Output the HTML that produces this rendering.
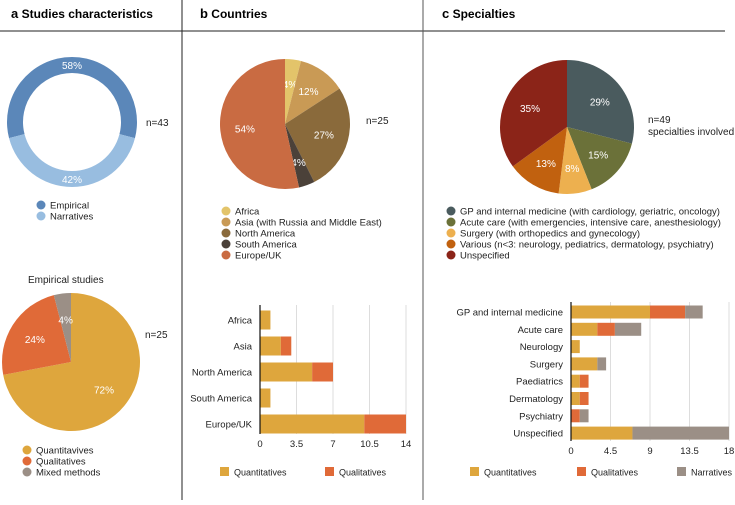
<!DOCTYPE html>
<html><head><meta charset="utf-8"><style>
body{margin:0;background:#fff;width:735px;height:500px;overflow:hidden}
svg{font-family:"Liberation Sans",sans-serif}
</style></head><body>
<svg id="s" width="735" height="500">
<line x1="0" y1="31" x2="725" y2="31" stroke="#222" stroke-width="1"/>
<line x1="182" y1="0" x2="182" y2="500" stroke="#222" stroke-width="1"/>
<line x1="423" y1="0" x2="423" y2="500" stroke="#555" stroke-width="1"/>
<text x="11" y="18" font-size="12" font-weight="bold"><tspan font-size="13">a</tspan>  Studies characteristics</text>
<text x="200" y="18" font-size="12" font-weight="bold"><tspan font-size="13">b</tspan>  Countries</text>
<text x="442" y="18" font-size="12" font-weight="bold"><tspan font-size="13">c</tspan>  Specialties</text>
<text x="146" y="126" font-size="10" fill="#222">n=43</text>
<text x="28" y="283" font-size="10" fill="#222">Empirical studies</text>
<text x="145" y="338" font-size="10" fill="#222">n=25</text>
<text x="366" y="124" font-size="10" fill="#222">n=25</text>
<text x="648" y="123" font-size="10" fill="#222">n=49</text>
<text x="648" y="135" font-size="10" fill="#222">specialties involved</text>
</svg>
<script>
const NS="http://www.w3.org/2000/svg";const S=document.getElementById('s');
function mk(t,a,p){const e=document.createElementNS(NS,t);for(const k in a)e.setAttribute(k,a[k]);(p||S).appendChild(e);return e;}
// data
const donutLabels=["Empirical","Narratives"];const donutVals=[58,42];
const empLabels=["Quantitavives","Qualitatives","Mixed methods"];const empVals=[72,24,4];
const ctryLabels=["Africa","Asia (with Russia and Middle East)","North America","South America","Europe/UK"];const ctryVals=[4,12,27,4,54];
const specLabels=["GP and internal medicine (with cardiology, geriatric, oncology)","Acute care (with emergencies, intensive care, anesthesiology)","Surgery (with orthopedics and gynecology)","Various (n<3: neurology, pediatrics, dermatology, psychiatry)","Unspecified"];const specVals=[29,15,8,13,35];
const barBCats=["Africa","Asia","North America","South America","Europe/UK"];const barBQuant=[1,2,5,1,10];const barBQual=[0,1,2,0,4];const barBTicks=["0","3.5","7","10.5","14"];
const barCCats=["GP and internal medicine","Acute care","Neurology","Surgery","Paediatrics","Dermatology","Psychiatry","Unspecified"];
const barCQuant=[9,3,1,3,1,1,0,7];const barCQual=[4,2,0,0,1,1,1,0];const barCNarr=[2,3,0,1,0,0,1,11];const barCTicks=["0","4.5","9","13.5","18"];

function pt(cx,cy,r,a){return [cx+r*Math.sin(a),cy-r*Math.cos(a)];}
function pie(cx,cy,r,vals,cols,start,name,inner){
  const tot=vals.reduce((a,b)=>a+b,0);let a=start;
  vals.forEach((v,i)=>{const sw=v/tot*2*Math.PI;const b=a+sw;const lg=sw>Math.PI?1:0;
    const p1=pt(cx,cy,r,a),p2=pt(cx,cy,r,b);let d;
    if(inner){const q1=pt(cx,cy,inner,b),q2=pt(cx,cy,inner,a);
      d=`M${p1}A${r},${r} 0 ${lg} 1 ${p2}L${q1}A${inner},${inner} 0 ${lg} 0 ${q2}Z`;}
    else d=`M${cx},${cy}L${p1}A${r},${r} 0 ${lg} 1 ${p2}Z`;
    const e=mk('path',{d:d,fill:cols[i]});
    
    
    const m=a+sw/2;const lr=inner?(r+inner)/2:r*0.62;const lp=pt(cx,cy,lr,m);
    const t=mk('text',{x:lp[0],y:lp[1]+4,'font-size':10,fill:'#fff','text-anchor':'middle'});t.textContent=v+'%';
    
    
    a=b;});
}
function legend(x,y,labels,cols,name,step){
  labels.forEach((l,i)=>{const c=mk('circle',{cx:x,cy:y+i*step,r:4.5,fill:cols[i]});
    
    
    const t=mk('text',{x:x+9,y:y+i*step+3.5,'font-size':9.5,fill:'#222'});t.textContent=l;
    
    });
}
const cA=["#5b87b9","#98bde0"];
pie(72,122,65,donutVals,cA,Math.PI-donutVals[1]/100*Math.PI+Math.PI*2*donutVals[1]/100,'donut',49);
legend(41,205,donutLabels,cA,'donut-legend',11);
const cE=["#dea63d","#e06a38","#9b8f86"];
pie(71,362,69,empVals,cE,0,'empirical-pie');
legend(27,450,empLabels,cE,'empirical-legend',11);
const cB=["#e3c46a","#c99a55","#8a6a3b","#4b4139","#c96b42"];
pie(285,124,65,ctryVals,cB,0,'country-pie');
legend(226,211,ctryLabels,cB,'country-legend',11);
const cC=["#4a5b5e","#6b7139","#edb04f","#c1610f","#8b2418"];
pie(567,127,67,specVals,cC,0,'specialty-pie');
legend(451,211,specLabels,cC,'specialty-legend',11);

function bars(o){
  const sx=v=>o.x0+(o.x1-o.x0)*v/o.max;
  o.ticks.forEach((tk,i)=>{const x=sx(parseFloat(tk));
    if(i>0){const g=mk('line',{x1:x,y1:o.top,x2:x,y2:o.bot,stroke:'#ddd'});}
    const t=mk('text',{x:x,y:o.bot+13,'font-size':9.5,'text-anchor':'middle',fill:'#222'});t.textContent=tk;
    
    });
  o.cats.forEach((c,i)=>{const y=o.y0+i*o.step;let acc=0;
    o.series.forEach((s,j)=>{const v=s[i];if(v>0){const r=mk('rect',{x:sx(acc),y:y-o.bh/2,width:sx(acc+v)-sx(acc),height:o.bh,fill:o.cols[j]});
      
      }acc+=v;});
    const t=mk('text',{x:o.x0-8,y:y+3.5,'font-size':9.5,'text-anchor':'end',fill:'#222'});t.textContent=c;
    
    });
  const ax=mk('line',{x1:o.x0,y1:o.top,x2:o.x0,y2:o.bot,stroke:'#111','stroke-width':1.2});
  
  
  o.leg.forEach((l,j)=>{const r=mk('rect',{x:o.legx[j],y:o.legy-5,width:9,height:9,fill:o.cols[j]});
    
    
    const t=mk('text',{x:o.legx[j]+14,y:o.legy+3.5,'font-size':9,fill:'#222'});t.textContent=l;
    
    });
}
bars({name:'country-bars',x0:260,x1:406,max:14,top:305,bot:434,y0:320,step:26,bh:19,cats:barBCats,series:[barBQuant,barBQual],cols:["#dea63d","#e06a38"],ticks:barBTicks,leg:["Quantitatives","Qualitatives"],legx:[220,325],legy:472});
bars({name:'specialty-bars',x0:571,x1:729,max:18,top:302,bot:441,y0:312,step:17.3,bh:13,cats:barCCats,series:[barCQuant,barCQual,barCNarr],cols:["#dea63d","#e06a38","#9b8f86"],ticks:barCTicks,leg:["Quantitatives","Qualitatives","Narratives"],legx:[470,577,677],legy:472});
</script>
</body></html>
